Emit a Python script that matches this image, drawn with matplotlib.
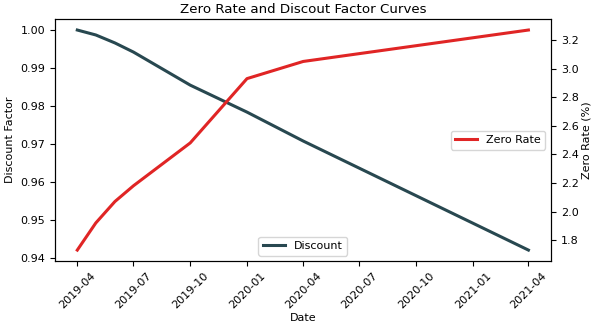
import matplotlib
matplotlib.use("Agg")
import matplotlib.pyplot as plt
import matplotlib.dates as mdates
import numpy as np

# Curve data
dates = np.array(["2019-04-01", "2019-05-01", "2019-06-01", "2019-07-01",
                  "2019-10-01", "2020-01-01", "2020-04-01", "2021-04-01"],
                 dtype="datetime64[D]")
discount = [1.0000, 0.9987, 0.9966, 0.9942, 0.9855, 0.9784, 0.9708, 0.9421]
zero_rate = [1.73, 1.92, 2.07, 2.18, 2.48, 2.93, 3.05, 3.27]

fig, ax1 = plt.subplots(figsize=(5.95, 3.28), dpi=100)
ax1.plot(dates, discount, color="#284850", linewidth=2.2, label="Discount")
ax1.set_xlabel("Date", fontsize=8, labelpad=2)
ax1.set_ylabel("Discount Factor", fontsize=8)
ax1.tick_params(axis="both", labelsize=8)
ax1.xaxis.set_major_locator(mdates.MonthLocator(bymonth=[1, 4, 7, 10]))
ax1.xaxis.set_major_formatter(mdates.DateFormatter("%Y-%m"))
plt.setp(ax1.get_xticklabels(), rotation=45)
ax1.legend(loc="lower center", fontsize=8)

ax2 = ax1.twinx()
ax2.plot(dates, zero_rate, color="#e02525", linewidth=2.2, label="Zero Rate")
ax2.set_ylabel("Zero Rate (%)", fontsize=8, labelpad=2)
ax2.tick_params(axis="y", labelsize=8)
ax2.legend(loc="center right", fontsize=8)

ax1.set_title("Zero Rate and Discout Factor Curves", fontsize=9.6, pad=4)
fig.subplots_adjust(left=0.092, right=0.926, top=0.942, bottom=0.204)
fig.savefig("out.png", dpi=100)
